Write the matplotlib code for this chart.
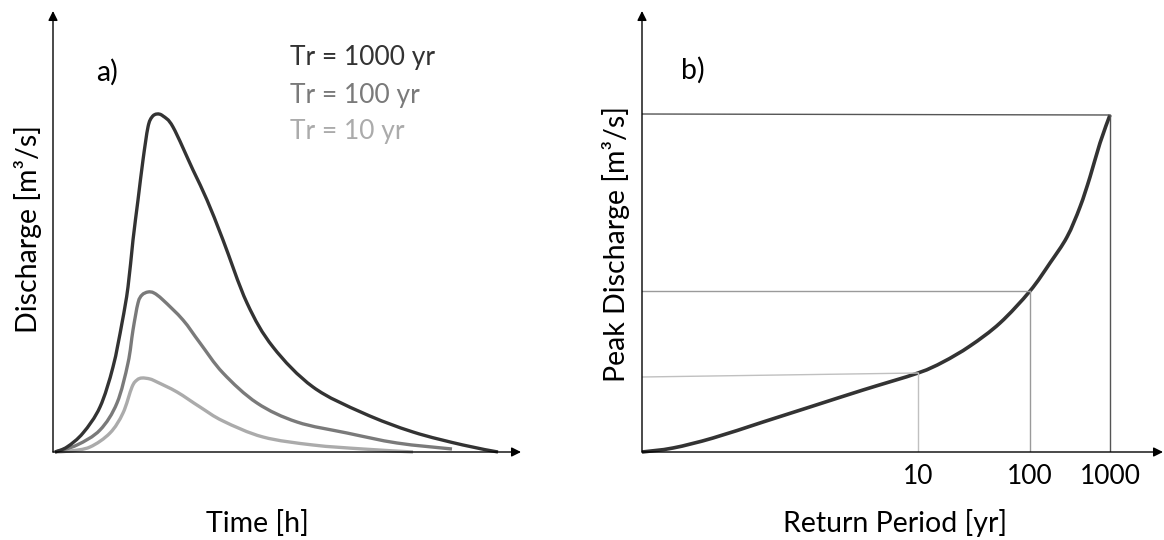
import matplotlib
matplotlib.use("Agg")
import matplotlib.pyplot as plt
from matplotlib.path import Path
from matplotlib.patches import PathPatch

plt.rcParams['font.family'] = ['Lato', 'DejaVu Sans']

# ---- Panel a) hydrographs (time in arbitrary hours, discharge arbitrary) ----
t_1000 = [0.2, 1.4, 3.0, 4.7, 6.0, 6.9, 7.5, 8.0, 8.5, 9.0, 9.5, 9.9, 10.4, 11.0, 12.0,
          14.0, 15.4, 17.0, 19.4, 22.0, 26.0, 31.0, 36.0, 41.0, 44.5]
q_1000 = [0.0, 0.5, 1.9, 4.5, 8.5, 12.9, 16.5, 21.2, 25.2, 29.2, 32.5, 33.5, 33.8, 33.6, 32.5,
          28.2, 25.2, 21.2, 14.9, 10.5, 6.5, 3.9, 2.0, 0.7, 0.0]

t_100 = [0.2, 2.4, 4.7, 6.4, 7.5, 8.0, 8.5, 8.9, 9.5, 10.1, 11.0, 13.0, 14.7, 17.0,
         20.4, 24.4, 29.4, 34.4, 39.9]
q_100 = [0.0, 0.7, 2.2, 4.9, 8.9, 12.2, 14.9, 15.7, 16.0, 15.9, 15.2, 13.2, 10.9, 7.9,
         4.9, 3.0, 1.9, 0.9, 0.3]

t_10 = [0.2, 1.7, 3.7, 5.7, 7.0, 7.9, 8.4, 8.9, 9.7, 10.4, 12.4, 14.7, 17.0,
        21.0, 26.0, 31.0, 36.0]
q_10 = [0.0, 0.1, 0.5, 1.9, 3.9, 6.5, 7.2, 7.4, 7.3, 7.0, 6.0, 4.5, 3.1,
        1.5, 0.7, 0.3, 0.0]

series_labels = ["Tr = 1000 yr", "Tr = 100 yr", "Tr = 10 yr"]
series_colors = ["#333333", "#7a7a7a", "#ababab"]

# ---- Panel b) peak discharge vs return period (schematic positions) ----
rp_x = [0.0, 3.1, 7.1, 12.1, 17.1, 22.1, 27.6, 30.1, 32.8, 35.8, 38.8, 40.8, 42.5,
        43.8, 44.8, 45.8, 46.8]
rp_q = [0.0, 0.4, 1.4, 3.0, 4.6, 6.2, 7.9, 9.0, 10.6, 12.9, 16.1, 18.9, 21.5,
        24.5, 27.5, 30.9, 33.7]

rp_tick_labels = ["10", "100", "1000"]
rp_tick_pos = [27.6, 38.8, 46.8]
rp_tick_q = [7.9, 16.1, 33.7]
rp_guide_left_q = [7.5, 16.1, 33.8]
guide_colors = ["#c0c0c0", "#9a9a9a", "#555555"]

W, H = 1164, 540
fig = plt.figure(figsize=(W / 100, H / 100), dpi=100)


def px_axes(x0, y_top, x1, y_bot):
    return fig.add_axes([x0 / W, 1 - y_bot / H, (x1 - x0) / W, (y_bot - y_top) / H])


def style_axes(ax):
    for s in ax.spines.values():
        s.set_visible(False)
    ax.set_xticks([])
    ax.set_yticks([])
    ax.patch.set_alpha(0)
    arrow = dict(arrowstyle='-|>', color='black', lw=1.0, mutation_scale=14,
                 shrinkA=0, shrinkB=0)
    ax.annotate('', xy=(1, 0), xytext=(0, 0), xycoords='axes fraction', arrowprops=arrow)
    ax.annotate('', xy=(0, 1), xytext=(0, 0), xycoords='axes fraction', arrowprops=arrow)


def smooth_curve(ax, xs, ys, color, lw):
    """Draw a smooth Bezier path passing through every read point (Catmull-Rom)."""
    n = len(xs)
    verts = [(xs[0], ys[0])]
    codes = [Path.MOVETO]
    for i in range(n - 1):
        x0, y0 = xs[max(i - 1, 0)], ys[max(i - 1, 0)]
        x1, y1 = xs[i], ys[i]
        x2, y2 = xs[i + 1], ys[i + 1]
        x3, y3 = xs[min(i + 2, n - 1)], ys[min(i + 2, n - 1)]
        c1 = (x1 + (x2 - x0) / 6.0, y1 + (y2 - y0) / 6.0)
        c2 = (x2 - (x3 - x1) / 6.0, y2 - (y3 - y1) / 6.0)
        verts += [c1, c2, (x2, y2)]
        codes += [Path.CURVE4] * 3
    patch = PathPatch(Path(verts, codes), facecolor='none', edgecolor=color, lw=lw,
                      joinstyle='round', capstyle='butt', clip_on=False)
    ax.add_patch(patch)


FS = 20.5

# Panel a
ax1 = px_axes(53, 11, 521, 452)
ax1.set_xlim(0, 46.8)
ax1.set_ylim(0, 44.1)
style_axes(ax1)
for t, q, c in [(t_10, q_10, series_colors[2]), (t_100, q_100, series_colors[1]),
                (t_1000, q_1000, series_colors[0])]:
    smooth_curve(ax1, t, q, c, 2.4)
for i, (lab, c) in enumerate(zip(series_labels, series_colors)):
    fig.text(290 / W, 1 - (58 + 37 * i) / H, lab, color=c, fontsize=FS - 1.5,
             ha='left', va='center')
fig.text(107 / W, 1 - 72 / H, "a)", fontsize=FS, ha='center', va='center')
fig.text(28 / W, 1 - 229 / H, "Discharge [m\u00b3/s]", fontsize=FS, rotation=90,
         ha='center', va='center')
fig.text(257 / W, 1 - 523 / H, "Time [h]", fontsize=FS, ha='center', va='center')

# Panel b
ax2 = px_axes(642, 11, 1163, 452)
ax2.set_xlim(0, 52.1)
ax2.set_ylim(0, 44.1)
style_axes(ax2)
for xp, q, ql, c in zip(rp_tick_pos, rp_tick_q, rp_guide_left_q, guide_colors):
    ax2.plot([0, xp], [ql, q], color=c, lw=1.0)
    ax2.plot([xp, xp], [q, 0], color=c, lw=1.0)
smooth_curve(ax2, rp_x, rp_q, "#333333", 2.6)
for xp, lab in zip(rp_tick_pos, rp_tick_labels):
    ax2.text(xp, -2.4, lab, fontsize=FS - 1.5, ha='center', va='center')
fig.text(693 / W, 1 - 70 / H, "b)", fontsize=FS, ha='center', va='center')
fig.text(616 / W, 1 - 244 / H, "Peak Discharge [m\u00b3/s]", fontsize=FS, rotation=90,
         ha='center', va='center')
fig.text(895 / W, 1 - 523 / H, "Return Period [yr]", fontsize=FS, ha='center', va='center')

fig.savefig("out.png", dpi=100, facecolor='white')
